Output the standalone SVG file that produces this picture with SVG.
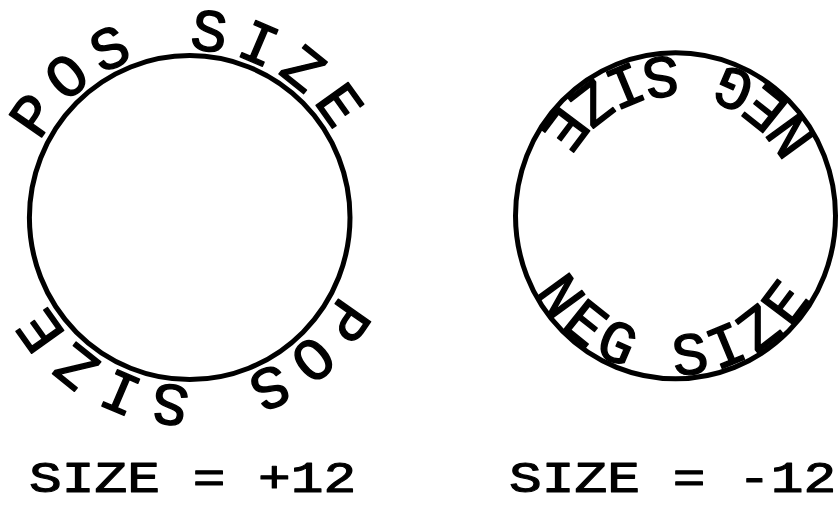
<svg xmlns="http://www.w3.org/2000/svg" xmlns:xlink="http://www.w3.org/1999/xlink" width="838" height="507" viewBox="0 0 838 507">
<style>
.ring{fill:none;stroke:#000;stroke-width:5}
.t{font-family:"Liberation Mono","DejaVu Sans Mono",monospace;fill:#000;stroke:#000;stroke-linejoin:round}
.ct{font-size:60px;stroke-width:1.4}
.pos{letter-spacing:9.9px}
.neg{letter-spacing:6.4px}
.lab{font-size:44px;stroke-width:1.1}
</style>
<defs>
<path id="pathPos" d="M 22 218 A 168 168 0 1 1 358 218 A 168 168 0 1 1 22 218"/>
<path id="pathNeg" d="M 516.5 215.8 A 159 159 0 1 0 834.5 215.8 A 159 159 0 1 0 516.5 215.8"/>
</defs>
<rect width="838" height="507" fill="#fff"/>
<g id="left-circle">
<ellipse class="ring" cx="189.7" cy="217.6" rx="160.3" ry="162"/>
<text class="t ct pos"><textPath xlink:href="#pathPos" href="#pathPos" startOffset="79">POS SIZE</textPath></text>
<text class="t ct pos"><textPath xlink:href="#pathPos" href="#pathPos" startOffset="606.8">POS SIZE</textPath></text>
</g>
<g id="right-circle">
<ellipse class="ring" cx="675.5" cy="215.8" rx="160" ry="163"/>
<text class="t ct neg"><textPath xlink:href="#pathNeg" href="#pathNeg" startOffset="79">NEG SIZE</textPath></text>
<text class="t ct neg"><textPath xlink:href="#pathNeg" href="#pathNeg" startOffset="578.5">NEG SIZE</textPath></text>
</g>
<g id="labels">
<text class="t lab" transform="translate(29 492) scale(1.24 1)">SIZE = +12</text>
<text class="t lab" transform="translate(509 492) scale(1.24 1)">SIZE = -12</text>
</g>
</svg>
